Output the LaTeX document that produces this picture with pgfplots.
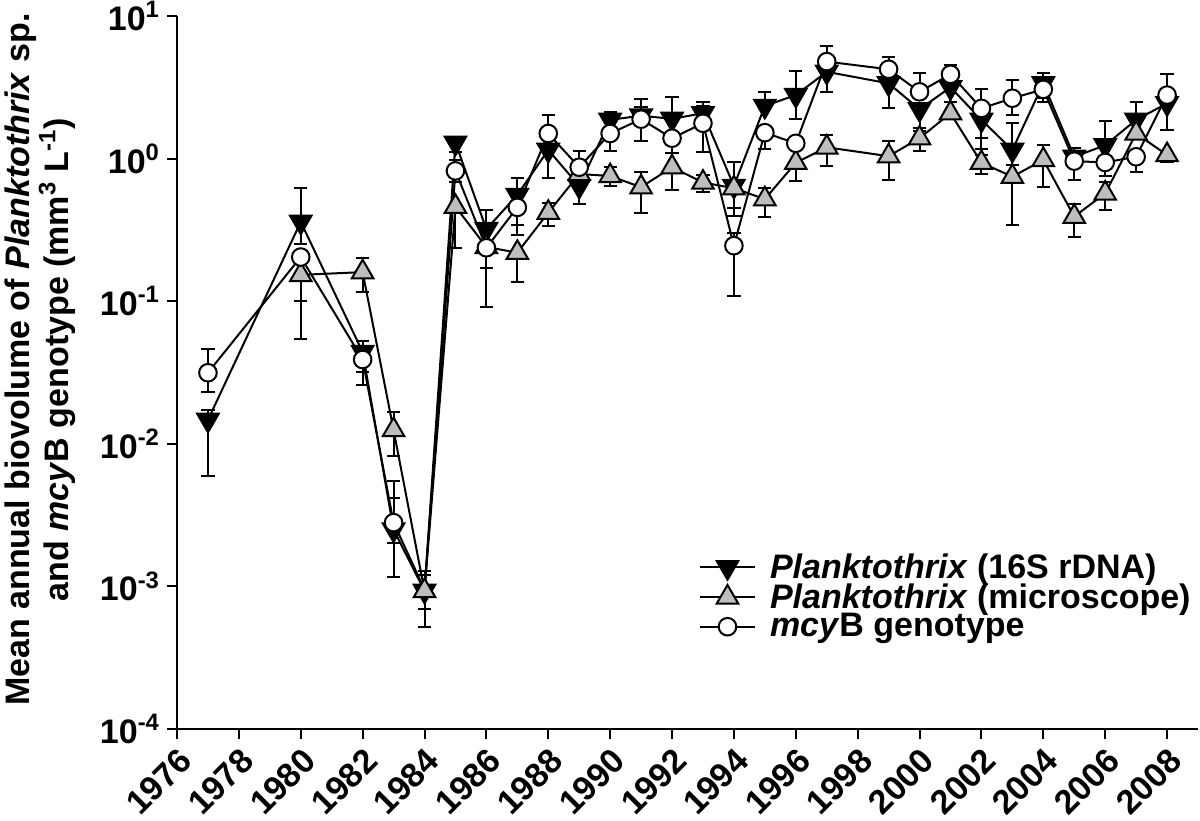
\documentclass[border=0pt]{standalone}
\usepackage{fontspec}
\setmainfont{Liberation Sans}
\usepackage{pgfplots}
\pgfplotsset{compat=1.18}
\usepackage{pgfplotstable}
\definecolor{mgray}{RGB}{190,190,190}
\newcommand\lab{\fontsize{17}{14.5}\selectfont\bfseries}

\pgfplotstableread{
x y hi lo
1977 0.0147 0.0173 0.0059
1980 0.36 0.62 0.25
1982 0.044 0.0526 0.0258
1983 0.0025 0.0042 0.0020
1984 0.00093 0.0012 0.00069
1985 1.29 1.29 1.12
1986 0.32 0.436 0.26
1987 0.556 0.728 0.342
1988 1.15 1.15 0.73
1989 0.643 0.643 0.48
1990 1.87 2.13 1.87
1991 2.0 2.29 2.0
1992 1.9 2.72 1.9
1993 2.08 2.5 2.08
1994 0.643 0.95 0.448
1995 2.34 2.94 2.34
1996 2.79 4.13 1.89
1997 4.06 4.06 2.94
1999 3.37 3.37 2.25
2000 2.22 2.22 1.63
2001 3.16 3.16 2.5
2002 1.87 1.87 1.16
2003 1.15 1.77 0.90
2004 3.37 4.0 2.65
2005 1.03 1.18 1.03
2006 1.24 1.84 1.24
2007 1.87 2.48 1.87
2008 2.44 2.44 1.58
}\dataA

\pgfplotstableread{
x y hi lo
1980 0.153 0.153 0.10
1982 0.160 0.201 0.116
1983 0.0125 0.0167 0.0082
1984 0.00093 0.00129 0.00052
1985 0.46 0.46 0.235
1986 0.24 0.24 0.171
1987 0.219 0.219 0.137
1988 0.418 0.485 0.336
1989 0.78 0.78 0.78
1990 0.755 0.87 0.64
1991 0.63 0.81 0.413
1992 0.87 1.10 0.60
1993 0.68 0.77 0.58
1994 0.62 0.62 0.395
1995 0.52 0.62 0.39
1996 0.935 0.935 0.70
1997 1.20 1.47 0.89
1999 1.04 1.33 0.71
2000 1.39 1.55 1.13
2001 2.08 2.08 2.08
2002 0.935 1.06 0.78
2003 0.747 0.9 0.342
2004 0.98 1.25 0.635
2005 0.392 0.48 0.28
2006 0.57 0.69 0.435
2007 1.50 1.50 1.50
2008 1.06 1.10 0.95
}\dataB

\pgfplotstableread{
x y hi lo
1977 0.0315 0.046 0.0232
1980 0.204 0.204 0.054
1982 0.039 0.039 0.0319
1983 0.0028 0.0055 0.00116
1984 0.00095 0.00095 0.00095
1985 0.82 0.98 0.69
1986 0.237 0.237 0.0917
1987 0.455 0.59 0.29
1988 1.50 2.02 1.50
1989 0.87 1.13 0.87
1990 1.50 1.50 1.13
1991 1.89 2.6 1.33
1992 1.39 1.39 1.10
1993 1.77 2.34 1.12
1994 0.245 0.30 0.108
1995 1.52 1.52 1.16
1996 1.28 1.28 1.28
1997 4.79 6.2 4.79
1999 4.23 5.2 4.23
2000 2.94 4.0 2.94
2001 3.90 4.5 3.90
2002 2.25 3.1 1.39
2003 2.65 3.56 2.02
2004 3.06 3.56 2.5
2005 0.96 1.18 0.71
2006 0.94 0.94 0.75
2007 1.03 1.03 0.80
2008 2.79 3.9 2.79
}\dataC

\begin{document}
\begin{tikzpicture}
\useasboundingbox (0,0) rectangle (600pt,410pt);
\begin{axis}[
  scale only axis, width=510.5pt, height=356.5pt,
  at={(88.5pt,45.5pt)}, anchor=south west,
  ymode=log, xmin=1976, xmax=2009, ymin=1e-4, ymax=10,
  axis x line*=bottom, axis y line*=left,
  axis line style={line width=1pt, -},
  every tick/.style={black, line width=1pt},
  tick align=outside, major tick length=5pt,
  yminorticks=false,
  xtick={1976,1978,...,2008},
  xticklabels={1976,1978,1980,1982,1984,1986,1988,1990,1992,1994,1996,1998,2000,2002,2004,2006,2008},
  ytick={1e-4,1e-3,1e-2,1e-1,1,10},
  yticklabels={10\textsuperscript{-4},10\textsuperscript{-3},10\textsuperscript{-2},10\textsuperscript{-1},10\textsuperscript{0},10\textsuperscript{1}},
  xticklabel style={rotate=45, anchor=north east, font=\lab, inner sep=2.5pt},
  yticklabel style={font=\lab},
  ylabel={Mean annual biovolume of \textit{Planktothrix} sp.\\and \textit{mcy}B genotype (mm\textsuperscript{3} L\textsuperscript{-1})},
  ylabel style={font=\lab, align=center, at={(axis description cs:-0.134,0.518)}, anchor=center},
  legend style={at={(rel axis cs:0.505,0.258)}, anchor=north west, draw=none, fill=none, font=\lab, row sep=-2.8pt},
  legend cell align=left,
  legend image code/.code={\draw[sharp plot, mark repeat=2, mark phase=2] plot coordinates {(0pt,0pt) (13.75pt,0pt) (27.5pt,0pt)}; \path (32.5pt,0pt);},
  error bars/error bar style={line width=1pt, black, solid},
  error bars/error mark options={rotate=90, mark size=3.3pt, line width=1pt, black},
]
\addplot[black, line width=1pt, mark=triangle*, mark size=6.2pt,
  mark options={rotate=180, fill=black, solid},
  error bars/.cd, y dir=both, y explicit]
  table[x=x, y=y, y error plus expr=\thisrow{hi}-\thisrow{y}, y error minus expr=\thisrow{y}-\thisrow{lo}] {\dataA};
\addlegendentry{\textit{Planktothrix} (16S rDNA)}
\addplot[black, line width=1pt, mark=triangle*, mark size=6.2pt,
  mark options={fill=mgray, solid},
  error bars/.cd, y dir=both, y explicit]
  table[x=x, y=y, y error plus expr=\thisrow{hi}-\thisrow{y}, y error minus expr=\thisrow{y}-\thisrow{lo}] {\dataB};
\addlegendentry{\textit{Planktothrix} (microscope)}
\addplot[forget plot, black, line width=1pt, no marks] table[x=x, y=y] {\dataC};
\addplot[black, line width=1pt, only marks, mark=*, mark size=4.4pt,
  mark options={fill=white, solid},
  skip coords between index={4}{5},
  error bars/.cd, y dir=both, y explicit]
  table[x=x, y=y, y error plus expr=\thisrow{hi}-\thisrow{y}, y error minus expr=\thisrow{y}-\thisrow{lo}] {\dataC};
\addlegendentry{\textit{mcy}B genotype}
\end{axis}
\end{tikzpicture}
\end{document}
